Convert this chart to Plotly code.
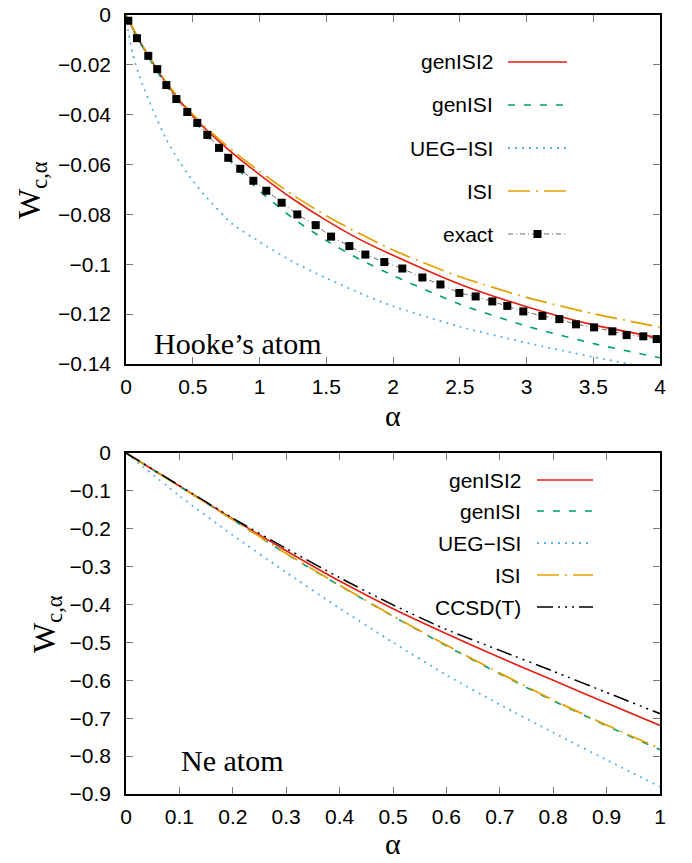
import plotly.graph_objects as go

# ---------------- data: top panel (Hooke's atom) ----------------
hooke_alpha = [0, 0.1, 0.2, 0.3, 0.4, 0.5, 0.6, 0.8, 1.0, 1.25, 1.5, 1.75, 2.0, 2.5, 3.0, 3.5, 4.0]
hooke_genISI2 = [0, -0.0102, -0.0192, -0.0272, -0.0342, -0.0405, -0.0460, -0.0555, -0.0640, -0.0738,
                 -0.0824, -0.0900, -0.0964, -0.1080, -0.1170, -0.1243, -0.1296]
hooke_genISI = [0, -0.0105, -0.0198, -0.0280, -0.0352, -0.0418, -0.0480, -0.0597, -0.0705, -0.0815,
                -0.0905, -0.0980, -0.1045, -0.1160, -0.1248, -0.1318, -0.1375]
hooke_ISI = [0, -0.0101, -0.0190, -0.0268, -0.0337, -0.0398, -0.0452, -0.0545, -0.0627, -0.0722,
             -0.0805, -0.0877, -0.0943, -0.1050, -0.1133, -0.1198, -0.1252]
hooke_alpha_ueg = [0, 0.02, 0.05, 0.1, 0.2, 0.3, 0.4, 0.5, 0.6, 0.8, 1.0, 1.25, 1.5, 1.75, 2.0, 2.5,
                   3.0, 3.5, 4.0]
hooke_UEG = [0, -0.0075, -0.0155, -0.0245, -0.0380, -0.0497, -0.0588, -0.0665, -0.0730, -0.0840,
             -0.0910, -0.0990, -0.1055, -0.1115, -0.1168, -0.1250, -0.1315, -0.1372, -0.1423]
hooke_exact_alpha = [0.017, 0.082, 0.167, 0.234, 0.302, 0.377, 0.459, 0.534, 0.609, 0.697, 0.766,
                     0.856, 0.954, 1.051, 1.166, 1.283, 1.421, 1.536, 1.673, 1.793, 1.935, 2.07,
                     2.22, 2.355, 2.497, 2.619, 2.744, 2.856, 2.976, 3.119, 3.246, 3.371, 3.506,
                     3.643, 3.75, 3.875, 3.975]
hooke_exact = [-0.0023, -0.0093, -0.0164, -0.0217, -0.0281, -0.0337, -0.0389, -0.0433, -0.0481,
               -0.0533, -0.0573, -0.0617, -0.0665, -0.0705, -0.0753, -0.0800, -0.0843, -0.0889,
               -0.0927, -0.0961, -0.0991, -0.1017, -0.1053, -0.1081, -0.1115, -0.1129, -0.1149,
               -0.1167, -0.1189, -0.1207, -0.1220, -0.1241, -0.1253, -0.1269, -0.1284, -0.1289,
               -0.1300]

# ---------------- data: bottom panel (Ne atom) ----------------
ne_alpha = [0, 0.1, 0.2, 0.3, 0.4, 0.5, 0.6, 0.7, 0.8, 0.9, 1.0]
ne_genISI2 = [0, -0.087, -0.174, -0.258, -0.338, -0.411, -0.477, -0.540, -0.600, -0.660, -0.719]
ne_genISI = [0, -0.088, -0.176, -0.266, -0.350, -0.431, -0.509, -0.583, -0.654, -0.720, -0.783]
ne_UEG = [0, -0.113, -0.217, -0.315, -0.410, -0.500, -0.586, -0.664, -0.738, -0.810, -0.881]
ne_ISI = [0, -0.088, -0.176, -0.265, -0.349, -0.430, -0.507, -0.581, -0.652, -0.718, -0.780]
ne_CCSDT = [0, -0.086, -0.172, -0.252, -0.329, -0.401, -0.466, -0.521, -0.576, -0.632, -0.688]

# ---------------- ticks / labels ----------------
top_xticks = [0, 0.5, 1, 1.5, 2, 2.5, 3, 3.5, 4]
top_xlabels = ["0", "0.5", "1", "1.5", "2", "2.5", "3", "3.5", "4"]
top_yticks = [0, -0.02, -0.04, -0.06, -0.08, -0.1, -0.12, -0.14]
top_ylabels = ["0", "\u22120.02", "\u22120.04", "\u22120.06", "\u22120.08", "\u22120.1", "\u22120.12", "\u22120.14"]
bot_xticks = [0, 0.1, 0.2, 0.3, 0.4, 0.5, 0.6, 0.7, 0.8, 0.9, 1]
bot_xlabels = ["0", "0.1", "0.2", "0.3", "0.4", "0.5", "0.6", "0.7", "0.8", "0.9", "1"]
bot_yticks = [0, -0.1, -0.2, -0.3, -0.4, -0.5, -0.6, -0.7, -0.8, -0.9]
bot_ylabels = ["0"] + ["\u22120.%d" % i for i in range(1, 10)]

top_names = ["genISI2", "genISI", "UEG\u2212ISI", "ISI", "exact"]
bot_names = ["genISI2", "genISI", "UEG\u2212ISI", "ISI", "CCSD(T)"]

# ---------------- styles ----------------
RED, GREEN, BLUE, ORANGE = "#e51e10", "#009e73", "#56b4e9", "#e69f00"
styles = {
    "genISI2": dict(color=RED, width=1.6, dash="solid"),
    "genISI": dict(color=GREEN, width=1.6, dash="7px,9px"),
    "UEG": dict(color=BLUE, width=1.8, dash="2px,5px"),
    "ISI": dict(color=ORANGE, width=1.7, dash="22px,6px,2px,6px"),
    "exact": dict(color="#444444", width=0.8, dash="5px,3px,1px,3px"),
    "CCSD": dict(color="black", width=1.5, dash="16px,5px,2px,5px,2px,5px,2px,5px"),
}
style_keys = ["genISI2", "genISI", "UEG", "ISI"]

W, H = 692, 863
PL, PR, PT, PB = 126, 660, 15, 794  # overall plot area in px
TOP_BOTTOM_PX, BOT_TOP_PX = 364, 453


def fx(px):
    return (px - PL) / (PR - PL)


def fy(py):
    return (PB - py) / (PB - PT)


fig = go.Figure()

top_series = [(hooke_alpha, hooke_genISI2), (hooke_alpha, hooke_genISI),
              (hooke_alpha_ueg, hooke_UEG), (hooke_alpha, hooke_ISI)]
for (xs, ys), key, name in zip(top_series, style_keys, top_names):
    fig.add_trace(go.Scatter(x=xs, y=ys, mode="lines", name=name,
                             line=dict(shape="spline", smoothing=0.6, **styles[key]),
                             xaxis="x", yaxis="y", showlegend=False))
fig.add_trace(go.Scatter(x=hooke_exact_alpha, y=hooke_exact, mode="lines+markers", name=top_names[4],
                         line=styles["exact"], marker=dict(symbol="square", size=8, color="black"),
                         xaxis="x", yaxis="y", showlegend=False, cliponaxis=False))

bot_series = [ne_genISI2, ne_genISI, ne_UEG, ne_ISI, ne_CCSDT]
for ys, key, name in zip(bot_series, style_keys + ["CCSD"], bot_names):
    fig.add_trace(go.Scatter(x=ne_alpha, y=ys, mode="lines", name=name,
                             line=dict(shape="spline", smoothing=0.6, **styles[key]),
                             xaxis="x2", yaxis="y2", showlegend=False))

tickfont = dict(family="Liberation Sans, Arial, sans-serif", size=21, color="black")
axis_common = dict(showgrid=False, zeroline=False, showline=True, linecolor="black", linewidth=1.5,
                   mirror="ticks", ticks="inside", ticklen=7, tickwidth=1, tickcolor="#777777",
                   tickfont=tickfont, automargin=False)

fig.update_layout(
    width=W, height=H, paper_bgcolor="white", plot_bgcolor="white",
    margin=dict(l=PL, r=W - PR, t=PT, b=H - PB, autoexpand=False),
    xaxis=dict(domain=[0, 1], range=[0, 4], anchor="y", tickvals=top_xticks, ticktext=top_xlabels,
               ticklabelstandoff=3, **axis_common),
    yaxis=dict(domain=[fy(TOP_BOTTOM_PX), 1], range=[-0.14, 0], anchor="x", tickvals=top_yticks,
               ticktext=top_ylabels, ticklabelstandoff=9, **axis_common),
    xaxis2=dict(domain=[0, 1], range=[0, 1], anchor="y2", tickvals=bot_xticks, ticktext=bot_xlabels,
                ticklabelstandoff=3, **axis_common),
    yaxis2=dict(domain=[0, fy(BOT_TOP_PX)], range=[-0.9, 0], anchor="x2", tickvals=bot_yticks,
                ticktext=bot_ylabels, ticklabelstandoff=9, **axis_common),
)

serif = "Liberation Serif, Times New Roman, serif"
sans = "Liberation Sans, Arial, sans-serif"
ann = []
shapes = []

# axis labels
ann.append(dict(x=fx(32), y=fy(190), text="W<sub>c,\u03b1</sub>", textangle=-90, showarrow=False,
                xref="paper", yref="paper", xanchor="center", yanchor="middle",
                font=dict(family=serif, size=32, color="black")))
ann.append(dict(x=fx(46), y=fy(624), text="W<sub>c,\u03b1</sub>", textangle=-90, showarrow=False,
                xref="paper", yref="paper", xanchor="center", yanchor="middle",
                font=dict(family=serif, size=32, color="black")))
ann.append(dict(x=fx(393), y=fy(416), text="\u03b1", showarrow=False, xref="paper", yref="paper",
                xanchor="center", yanchor="middle", font=dict(family=serif, size=30, color="black")))
ann.append(dict(x=fx(393), y=fy(862), text="\u03b1", showarrow=False, xref="paper", yref="paper",
                xanchor="center", yanchor="bottom", font=dict(family=serif, size=30, color="black")))

# panel titles
ann.append(dict(x=fx(152), y=fy(343), text="Hooke\u2019s atom", showarrow=False, xref="paper", yref="paper",
                xanchor="left", yanchor="middle", font=dict(family=serif, size=30, color="black")))
ann.append(dict(x=fx(179), y=fy(760), text="Ne atom", showarrow=False, xref="paper", yref="paper",
                xanchor="left", yanchor="middle", font=dict(family=serif, size=30, color="black")))

# manual gnuplot-style legends (text left, sample right)
top_rows = [62, 105, 148, 191, 234]
bot_rows = [480, 511, 543, 575, 607]
top_keys = style_keys + ["exact"]
bot_keys = style_keys + ["CCSD"]


def add_legend(names, keys, rows, text_right, s0, s1):
    for name, key, row in zip(names, keys, rows):
        ann.append(dict(x=fx(text_right), y=fy(row), text=name, showarrow=False, xref="paper", yref="paper",
                        xanchor="right", yanchor="middle", font=dict(family=sans, size=21, color="black")))
        st = styles[key]
        shapes.append(dict(type="line", xref="paper", yref="paper", x0=fx(s0), x1=fx(s1), y0=fy(row), y1=fy(row),
                           line=dict(color=st["color"], width=st["width"], dash=st["dash"])))


add_legend(top_names, top_keys, top_rows, 495, 508, 567)
add_legend(bot_names, bot_keys, bot_rows, 523, 537, 593)
# square marker of the "exact" legend key
mx, my = 537.5, top_rows[4]
shapes.append(dict(type="rect", xref="paper", yref="paper", x0=fx(mx - 4), x1=fx(mx + 4), y0=fy(my + 4), y1=fy(my - 4),
                   fillcolor="black", line=dict(width=0)))

fig.update_layout(annotations=ann, shapes=shapes)
fig.write_html("out.html", config={"displayModeBar": False},
               post_script="document.body.style.margin='0px';document.body.style.overflow='hidden';")
